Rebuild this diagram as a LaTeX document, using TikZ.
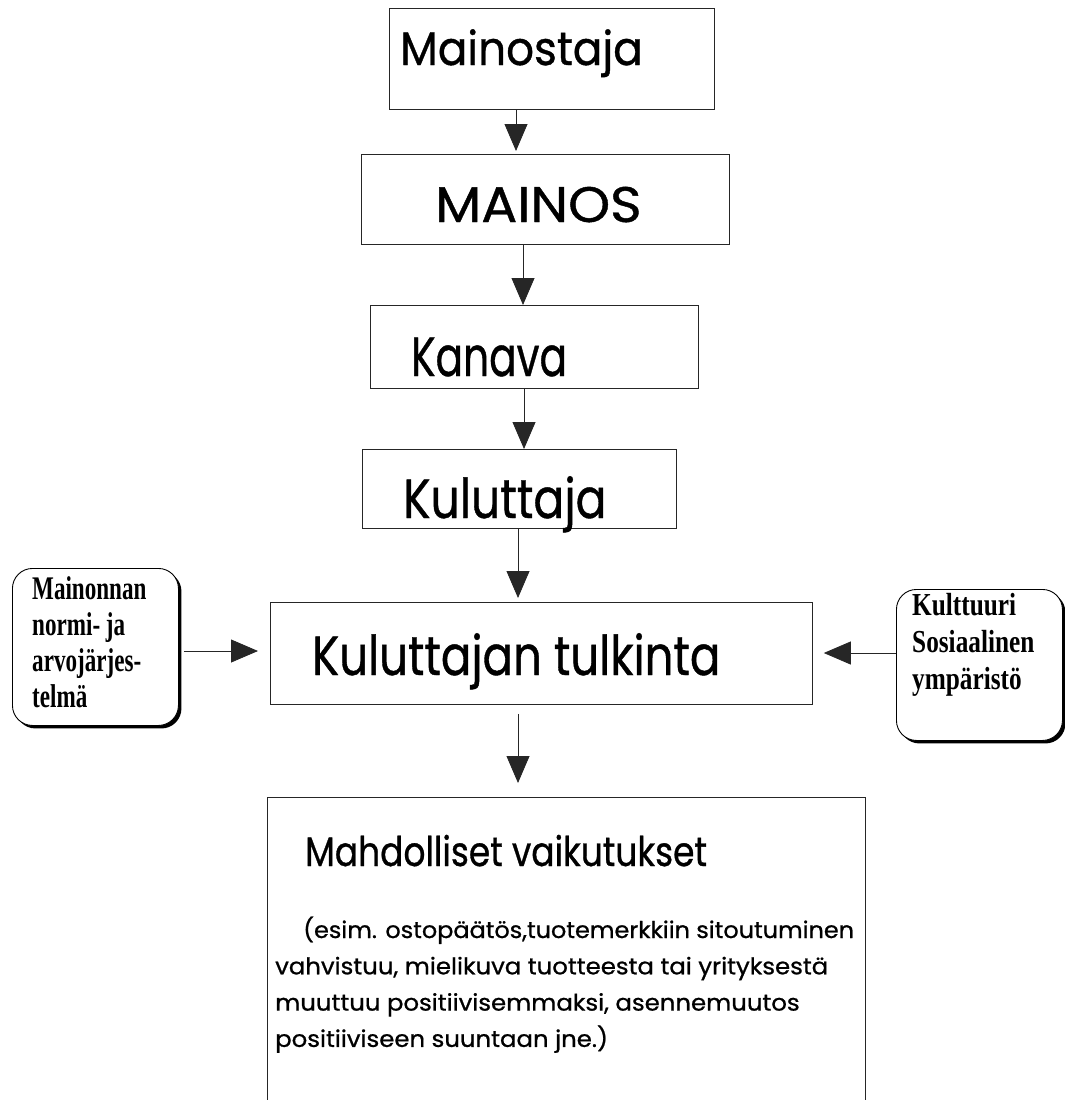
\documentclass[tikz,border=0pt]{standalone}
\usepackage{fontspec}
\usepackage{graphicx}
\usetikzlibrary{arrows.meta,shadows}
\newfontfamily\comic[FakeBold=0.8]{Poppins}
\newfontfamily\tnrl[FakeStretch=0.70]{Liberation Serif}
\newfontfamily\tnrr[FakeStretch=0.79]{Liberation Serif}
\tikzset{
  box/.style={draw=black!85, line width=0.8pt, rectangle, inner sep=0pt, anchor=north west},
  rbox/.style={draw=black, line width=0.9pt, rectangle, rounded corners=20pt, fill=white, inner sep=0pt, anchor=north west,
     drop shadow={shadow xshift=3pt, shadow yshift=-3pt, fill=black, opacity=1}},
  lbl/.style={inner sep=0pt, anchor=base west},
  arr/.style={draw=black!85, line width=0.8pt, -{Triangle[length=27pt,width=23pt]}},
}
\begin{document}
\begin{tikzpicture}[x=1pt,y=-1pt]
\useasboundingbox (0,0) rectangle (1065,1100);
\clip (0,0) rectangle (1065,1100);
% boxes
\node[box, minimum width=325pt, minimum height=101pt] (mainostaja) at (389,8) {};
\node[box, minimum width=368pt, minimum height=90pt] (mainos) at (361,154) {};
\node[box, minimum width=328pt, minimum height=83pt] (kanava) at (370,305) {};
\node[box, minimum width=314pt, minimum height=79pt] (kuluttaja) at (362,449) {};
\node[box, minimum width=542pt, minimum height=102pt] (tulkinta) at (270,602) {};
\node[box, minimum width=598pt, minimum height=340pt] (vaikutukset) at (267,797) {};
\node[rbox, minimum width=166pt, minimum height=157pt] (normit) at (12,568) {};
\node[rbox, minimum width=166pt, minimum height=151pt] (kulttuuri) at (896,589) {};
% texts
\node[lbl, font=\comic\fontsize{47}{50}\selectfont] (t1) at (400,65) {\scalebox{0.93}[1]{Mainostaja}};
\node[lbl, font=\comic\fontsize{50}{52}\selectfont] (t2) at (435,222) {\scalebox{1.07}[1]{MAINOS}};
\node[lbl, font=\comic\fontsize{55}{58}\selectfont] (t3) at (411,376) {\scalebox{0.74}[1]{Kanava}};
\node[lbl, font=\comic\fontsize{55}{58}\selectfont] (t4) at (403,518) {\scalebox{0.83}[1]{Kuluttaja}};
\node[lbl, font=\comic\fontsize{55}{58}\selectfont] (t5) at (312,675) {\scalebox{0.82}[1]{Kuluttajan tulkinta}};
\node[lbl, font=\comic\fontsize{41}{44}\selectfont] (t6) at (305,866) {\scalebox{0.84}[1]{Mahdolliset vaikutukset}};
\node[lbl, font=\comic\fontsize{23}{36.3}\selectfont] (t7) at (275,938) {%
  \begin{tabular}[t]{@{}l@{}}
  \hspace*{28pt}\scalebox{1.04}[1]{(esim. ostopäätös,tuotemerkkiin sitoutuminen}\\
  \scalebox{1.06}[1]{vahvistuu, mielikuva tuotteesta tai yrityksestä}\\
  \scalebox{1.06}[1]{muuttuu positiivisemmaksi, asennemuutos}\\
  \scalebox{1.06}[1]{positiiviseen suuntaan jne.)}
  \end{tabular}};
\node[lbl, font=\tnrl\bfseries\fontsize{33}{36}\selectfont] (t8) at (32,599) {%
  \begin{tabular}[t]{@{}l@{}}
  Mainonnan\\ normi- ja\\ arvojärjes-\\ telmä
  \end{tabular}};
\node[lbl, font=\tnrr\bfseries\fontsize{32}{37}\selectfont] (t9) at (912,615) {%
  \begin{tabular}[t]{@{}l@{}}
  Kulttuuri\\ Sosiaalinen\\ ympäristö
  \end{tabular}};
% arrow columns
\coordinate (c1) at (516,0);
\coordinate (c2) at (523,0);
\coordinate (c3) at (524,0);
\coordinate (c4) at (518,0);
\coordinate (r1) at (0,651);
\coordinate (r2) at (0,653);
% connectors
\draw[arr, shorten >=3pt] (mainostaja.south -| c1) -- (mainos.north -| c1);
\draw[arr] (mainos.south -| c2) -- (kanava.north -| c2);
\draw[arr] (kanava.south -| c3) -- (kuluttaja.north -| c3);
\draw[arr, shorten >=4pt] (kuluttaja.south -| c4) -- (tulkinta.north -| c4);
\draw[arr, shorten <=9pt, shorten >=14pt] (tulkinta.south -| c4) -- (vaikutukset.north -| c4);
\draw[arr, shorten <=5pt, shorten >=12pt] (normit.east |- r1) -- (tulkinta.west |- r1);
\draw[arr, shorten >=11pt] (kulttuuri.west |- r2) -- (tulkinta.east |- r2);
\end{tikzpicture}
\end{document}
